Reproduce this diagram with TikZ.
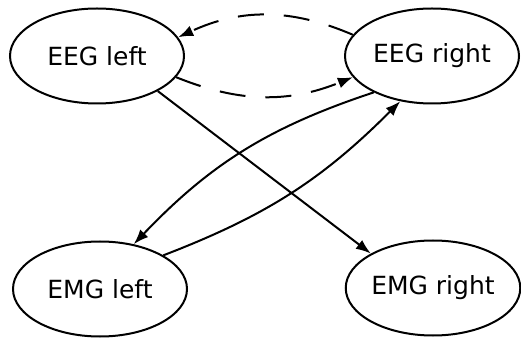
\documentclass[tikz,border=0pt]{standalone}
\usepackage{fontspec}
\setmainfont{DejaVu Sans}
\usepackage{tikz}
\usepackage{xcolor}
\usetikzlibrary{arrows.meta,shapes.geometric}

\begin{document}
\begin{tikzpicture}[x=1pt,y=1pt,
    sig/.style={draw,ellipse,line width=2pt,minimum width=174pt,minimum height=95pt,inner sep=0pt,font=\fontsize{25}{30}\selectfont},
    link/.style={line width=2pt,-{Latex[length=15pt,width=11pt]}},
    cross/.style={link,dash pattern=on 26pt off 20pt}]
    \useasboundingbox (0,0) rectangle (521,337);
    \node [sig] (eegl) at (97,281) {EEG left};
    \node [sig] (eegr) at (432,281) {EEG right};
    \node [sig] (emgl) at (100,48) {EMG left};
    \node [sig] (emgr) at (433,49) {EMG right};
    % between the two EEG channels
    \draw [cross] (eegr.165) to [bend right=24] (eegl.13);
    \draw [cross] (eegl.345) to [bend right=22] (eegr.195);
    % to the EMG channels
    \draw [link] (eegl.330) -- (emgr.151);
    \draw [link] (eegr.212) to [bend right=14] (emgl.53);
    \draw [link] (emgl.28) to [bend right=12] (eegr.235);
\end{tikzpicture}
\end{document}
